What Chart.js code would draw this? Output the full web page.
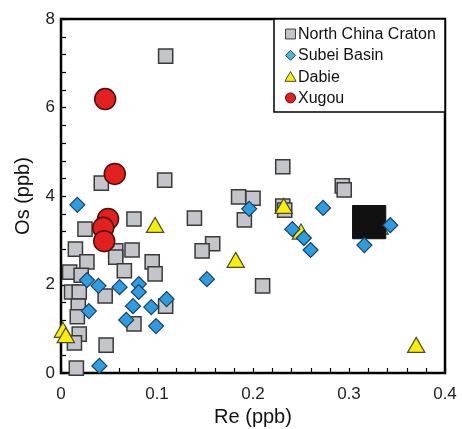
<!DOCTYPE html>
<html>
<head>
<meta charset="utf-8">
<script src="https://cdn.jsdelivr.net/npm/chart.js@4/dist/chart.umd.min.js"></script>
<style>
  html,body{margin:0;padding:0;background:#fff;}
  #wrap{width:462px;height:429px;}
</style>
</head>
<body>
<div id="wrap"><canvas id="c" width="462" height="429"></canvas></div>
<script>
// ---- data (Re ppb, Os ppb) ----
const nccRe = [0.109,0.042,0.108,0.231,0.185,0.200,0.191,0.139,0.158,0.147,0.210,0.231,0.233,0.293,0.295,0.076,0.025,0.015,0.057,0.057,0.074,0.027,0.095,0.009,0.021,0.066,0.098,0.011,0.019,0.046,0.018,0.017,0.076,0.019,0.014,0.047,0.016,0.109];
const nccOs = [7.16,4.29,4.36,4.66,3.98,3.95,3.46,3.50,2.92,2.76,1.97,3.77,3.68,4.23,4.14,3.48,3.25,2.80,2.76,2.62,2.78,2.51,2.51,2.28,2.21,2.31,2.24,1.83,1.83,1.74,1.51,1.27,1.11,0.88,0.68,0.63,0.11,1.51];

const subeiRe = [0.017,0.027,0.039,0.061,0.081,0.081,0.075,0.029,0.068,0.094,0.099,0.040,0.196,0.152,0.110,0.241,0.253,0.260,0.273,0.316,0.343];
const subeiOs = [3.80,2.10,1.97,1.94,2.01,1.83,1.51,1.40,1.20,1.49,1.06,0.16,3.71,2.12,1.67,3.25,3.05,2.78,3.73,2.89,3.34];

const dabieRe = [0.098,0.182,0.232,0.250,0.332,0.370,0.002,0.005];
const dabieOs = [3.29,2.50,3.72,3.14,3.25,0.58,0.92,0.80];

const xugouRe = [0.046,0.056,0.049,0.044,0.045];
const xugouOs = [6.19,4.50,3.48,3.28,2.98];

const meanRe = [0.321];
const meanOs = [3.41];

const xTicks = [0,0.1,0.2,0.3,0.4];
const yTicks = [0,2,4,6,8];
const xMinorStep = 0.02;
const yMinorStep = 0.4;

const seriesLabels = ['North China Craton','Subei Basin','Dabie','Xugou'];

function pts(xs, ys){ return xs.map((x,i)=>({x:x,y:ys[i]})); }

const FONT = "'Liberation Sans', Arial, Helvetica, sans-serif";

const styles = [
  {style:'rect', bg:'#c4c4cb', border:'#3a3a3a', r:10, lr:7, lbg:'#c4c4cb'},
  {style:'rectRot', bg:'#2b9de0', border:'#1d3f60', r:7.5, lr:5, lbg:'#4fb6d2'},
  {style:'triangle', bg:'#f8f000', border:'#4a4a3a', r:10, lr:6.5, lbg:'#f8f000'},
  {style:'circle', bg:'#e3201e', border:'#4a1010', r:10.5, lr:5, lbg:'#e3201e'}
];

const datasets = [
  {label:seriesLabels[0], data:pts(nccRe,nccOs), pointStyle:styles[0].style, backgroundColor:styles[0].bg, borderColor:styles[0].border, pointRadius:styles[0].r, pointBorderWidth:1.5, order:5, clip:false},
  {label:seriesLabels[1], data:pts(subeiRe,subeiOs), pointStyle:styles[1].style, backgroundColor:styles[1].bg, borderColor:styles[1].border, pointRadius:styles[1].r, pointBorderWidth:1.2, order:2, clip:false},
  {label:seriesLabels[2], data:pts(dabieRe,dabieOs), pointStyle:styles[2].style, backgroundColor:styles[2].bg, borderColor:styles[2].border, pointRadius:styles[2].r, pointBorderWidth:1.2, order:4, clip:false},
  {label:seriesLabels[3], data:pts(xugouRe,xugouOs), pointStyle:styles[3].style, backgroundColor:styles[3].bg, borderColor:styles[3].border, pointRadius:styles[3].r, pointBorderWidth:1.5, order:1, clip:false},
  {label:'mean', data:pts(meanRe,meanOs), pointStyle:'rect', backgroundColor:'#111111', borderColor:'#111111', pointRadius:23.5, pointBorderWidth:1, order:3, clip:false}
];

function drawMarker(ctx, style, x, y, r, bg, border){
  ctx.save();
  ctx.fillStyle = bg; ctx.strokeStyle = border; ctx.lineWidth = 1;
  ctx.beginPath();
  if (style==='rect'){ const s=r*Math.SQRT1_2; ctx.rect(x-s,y-s,2*s,2*s); }
  else if (style==='rectRot'){ ctx.moveTo(x,y-r); ctx.lineTo(x+r,y); ctx.lineTo(x,y+r); ctx.lineTo(x-r,y); ctx.closePath(); }
  else if (style==='triangle'){ ctx.moveTo(x,y-r); ctx.lineTo(x+r*0.866,y+r*0.5); ctx.lineTo(x-r*0.866,y+r*0.5); ctx.closePath(); }
  else { ctx.arc(x,y,r,0,Math.PI*2); }
  ctx.fill(); ctx.stroke();
  ctx.restore();
}

const framePlugin = {
  id:'frame',
  beforeDatasetsDraw(chart){
    const ctx = chart.ctx, a = chart.chartArea;
    const xs = chart.scales.x, ys = chart.scales.y;
    ctx.save();
    ctx.strokeStyle = '#000'; ctx.lineWidth = 1.2;
    for (let v = xs.min; v <= xs.max + 1e-9; v += xMinorStep){
      const px = Math.round(xs.getPixelForValue(v)) + 0.5;
      ctx.beginPath(); ctx.moveTo(px, a.bottom); ctx.lineTo(px, a.bottom - 5); ctx.stroke();
    }
    for (let v = ys.min; v <= ys.max + 1e-9; v += yMinorStep){
      const py = Math.round(ys.getPixelForValue(v)) + 0.5;
      ctx.beginPath(); ctx.moveTo(a.left, py); ctx.lineTo(a.left + 5, py); ctx.stroke();
    }
    ctx.lineWidth = 2.5;
    ctx.strokeRect(a.left, a.top, a.right - a.left, a.bottom - a.top);
    ctx.restore();
  },
  afterDatasetsDraw(chart){
    const ctx = chart.ctx, a = chart.chartArea;
    const bx = 274, by = a.top, bw = a.right - bx, bh = 93;
    ctx.save();
    ctx.fillStyle = '#fff';
    ctx.fillRect(bx, by, bw, bh);
    ctx.strokeStyle = '#000'; ctx.lineWidth = 1.5;
    ctx.strokeRect(bx, by, bw, bh);
    ctx.font = '16px ' + FONT;
    ctx.fillStyle = '#111';
    ctx.textBaseline = 'middle';
    ctx.textAlign = 'left';
    for (let i = 0; i < 4; i++){
      const cy = by + 15 + i * 21.3;
      const st = styles[i];
      drawMarker(ctx, st.style, 290.5, cy + (st.style==='triangle'?1.5:0), st.lr, st.lbg, st.border);
      ctx.fillText(chart.data.datasets[i].label, 298, cy + 0.5);
    }
    ctx.restore();
  }
};

new Chart(document.getElementById('c'), {
  type:'scatter',
  data:{datasets:datasets},
  options:{
    responsive:false,
    animation:false,
    devicePixelRatio:1,
    layout:{autoPadding:false, padding:{left:0, top:19, right:17, bottom:0}},
    plugins:{legend:{display:false}, tooltip:{enabled:false}},
    scales:{
      x:{
        type:'linear', min:0, max:0.4,
        afterBuildTicks(s){ s.ticks = xTicks.map(v=>({value:v})); },
        afterFit(s){ s.height = 56; s.paddingLeft = 0; s.paddingRight = 0; },
        grid:{display:false, drawTicks:false},
        border:{display:false},
        ticks:{padding:11, color:'#222', font:{family:FONT, size:17}, maxRotation:0, callback:(v)=>String(v)},
        title:{display:true, text:'Re (ppb)', color:'#111', font:{family:FONT, size:20}, padding:{top:2,bottom:0}}
      },
      y:{
        type:'linear', min:0, max:8,
        afterBuildTicks(s){ s.ticks = yTicks.map(v=>({value:v})); },
        afterFit(s){ s.width = 61; s.paddingTop = 0; s.paddingBottom = 0; },
        grid:{display:false, drawTicks:false},
        border:{display:false},
        ticks:{padding:6, color:'#222', font:{family:FONT, size:17}, callback:(v)=>String(v)},
        title:{display:true, text:'Os (ppb)', color:'#111', font:{family:FONT, size:20}, padding:{top:11,bottom:0}}
      }
    }
  },
  plugins:[framePlugin]
});
</script>
</body>
</html>
